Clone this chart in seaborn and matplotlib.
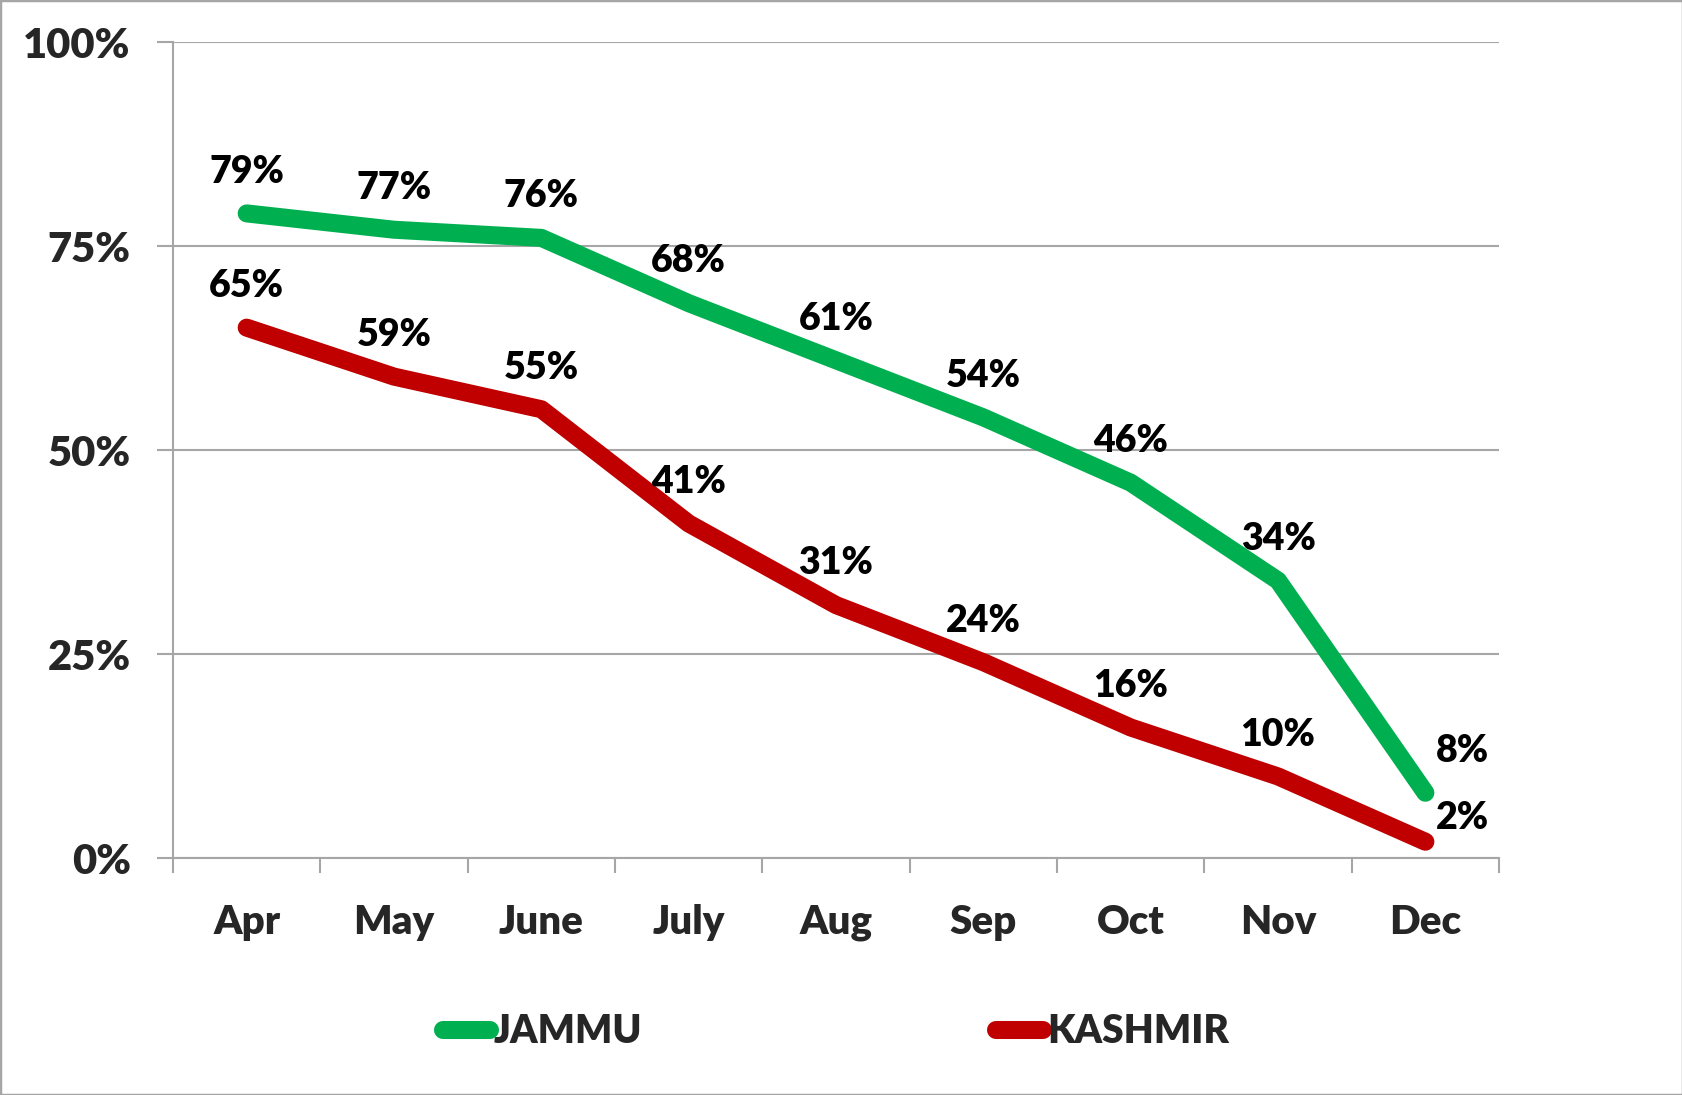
import numpy as np
import pandas as pd
import matplotlib
matplotlib.use("Agg")
import matplotlib.pyplot as plt
from matplotlib.patches import Rectangle
import seaborn as sns

months = ["Apr", "May", "June", "July", "Aug", "Sep", "Oct", "Nov", "Dec"]
jammu = [79, 77, 76, 68, 61, 54, 46, 34, 8]
kashmir = [65, 59, 55, 41, 31, 24, 16, 10, 2]
regions = ["JAMMU", "KASHMIR"]
colors = {"JAMMU": "#00B050", "KASHMIR": "#C00000"}

df = pd.DataFrame({
    "month": months * 2,
    "pct": jammu + kashmir,
    "region": ["JAMMU"] * len(months) + ["KASHMIR"] * len(months),
})

sns.set_theme(style="white")
plt.rcParams["font.family"] = ["Lato", "DejaVu Sans"]
W = "heavy"

fig = plt.figure(figsize=(16.83, 10.95), dpi=100)
ax = fig.add_axes([0.1028, 0.2164, 0.7879, 0.7452])

sns.lineplot(data=df, x="month", y="pct", hue="region", palette=colors,
             linewidth=13, sort=False, ax=ax, legend=True,
             solid_capstyle="round", solid_joinstyle="round")

grid_c = "#A6A6A6"
ax.set_ylim(0, 100)
ax.set_xlim(-0.5, len(months) - 0.5)
ax.set_yticks([0, 25, 50, 75, 100])
ax.set_yticklabels([f"{v}%" for v in [0, 25, 50, 75, 100]], fontsize=30, fontweight=W)
ax.yaxis.grid(True, color=grid_c, linewidth=1.5)
ax.set_axisbelow(True)
ax.tick_params(axis="y", length=11.5, width=1.5, color=grid_c, pad=19, left=True)

ax.set_xticks(range(len(months)))
ax.set_xticklabels(months, fontsize=29, fontweight=W)
ax.set_xticks(np.arange(-0.5, len(months)), minor=True)
ax.tick_params(axis="x", which="major", length=0, pad=33)
ax.tick_params(axis="x", which="minor", length=11, width=1.5, color=grid_c, bottom=True)
ax.set_xlabel("")
ax.set_ylabel("")

for s in ["top", "right"]:
    ax.spines[s].set_visible(False)
for s in ["left", "bottom"]:
    ax.spines[s].set_color(grid_c)
    ax.spines[s].set_linewidth(1.5)

for series, vals in zip(regions, [jammu, kashmir]):
    for i, v in enumerate(vals):
        off = (0, 30)
        if i == len(vals) - 1:
            off = (27, 30) if series == "JAMMU" else (27, 17)
        ax.annotate(f"{v}%", (i, v), xytext=off, textcoords="offset points",
                    ha="center", va="center", fontsize=27, fontweight=W,
                    color="black")

ax.legend(loc="center", bbox_to_anchor=(0.5, -0.213), ncol=2, frameon=False,
          handlelength=1.2, handletextpad=0.1, columnspacing=9.1,
          prop={"weight": W, "size": 28})

fig.patches.append(Rectangle((0, 0), 1, 1, transform=fig.transFigure,
                             fill=False, edgecolor="#A6A6A6", linewidth=2.5))

fig.savefig("out.png", dpi=100)
